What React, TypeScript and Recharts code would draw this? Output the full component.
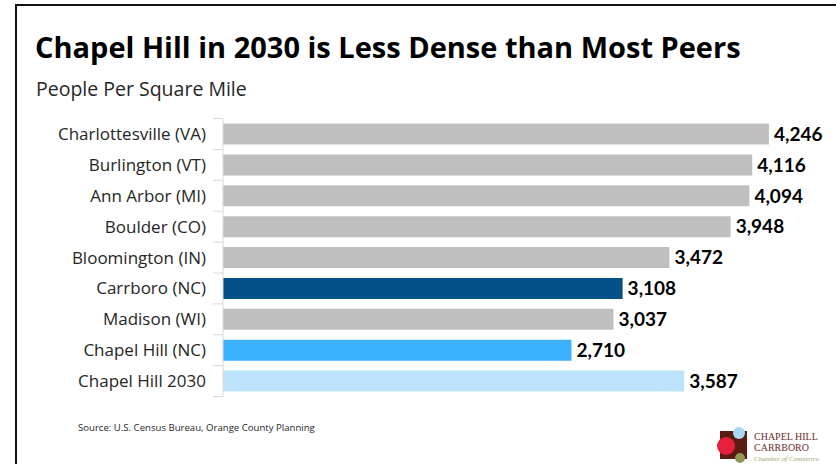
import { BarChart, Bar, XAxis, YAxis, Cell, LabelList } from 'recharts'

const cities = [
  'Charlottesville (VA)',
  'Burlington (VT)',
  'Ann Arbor (MI)',
  'Boulder (CO)',
  'Bloomington (IN)',
  'Carrboro (NC)',
  'Madison (WI)',
  'Chapel Hill (NC)',
  'Chapel Hill 2030'
]
const density = [4246, 4116, 4094, 3948, 3472, 3108, 3037, 2710, 3587]
const barColors = [
  '#bfbfbf',
  '#bfbfbf',
  '#bfbfbf',
  '#bfbfbf',
  '#bfbfbf',
  '#04518a',
  '#bfbfbf',
  '#3bb0fc',
  '#bde3fb'
]

const data = cities.map((city, i) => ({ city, density: density[i] }))

const W = 836
const H = 464
const TOP = 118.6
const BOTTOM = 67.5
const AXIS_X = 223
const BAND = (H - TOP - BOTTOM) / cities.length

const labelFont = '"Open Sans", "Noto Sans", sans-serif'

function CityTick(props: any) {
  const { y, payload, index } = props
  return (
    <g>
      <line x1={AXIS_X - 10} x2={AXIS_X} y1={y - BAND / 2} y2={y - BAND / 2} stroke="#d9d9d9" />
      {index === cities.length - 1 && (
        <line x1={AXIS_X - 10} x2={AXIS_X} y1={y + BAND / 2} y2={y + BAND / 2} stroke="#d9d9d9" />
      )}
      <text
        x={AXIS_X - 17}
        y={y}
        dy="0.35em"
        textAnchor="end"
        fontFamily={labelFont}
        fontSize={17}
        fill="#262626"
      >
        {payload.value}
      </text>
    </g>
  )
}

function Logo() {
  return (
    <g>
      <rect x={720} y={431} width={27} height={28} fill="#5b1a12" />
      <circle cx={739} cy={433} r={6} fill="#a9d9f2" />
      <circle cx={726} cy={446} r={9} fill="#e5203c" />
      <circle cx={740} cy={458} r={5} fill="#8c9a52" />
      <text x={754} y={440} fontFamily='"Liberation Serif", serif' fontSize={10} fill="#6e2b2b">
        CHAPEL HILL
      </text>
      <text x={754} y={451} fontFamily='"Liberation Serif", serif' fontSize={10} fill="#6e2b2b">
        CARRBORO
      </text>
      <text
        x={754}
        y={461}
        fontFamily='"Liberation Serif", serif'
        fontStyle="italic"
        fontSize={7}
        fill="#a3a46e"
      >
        Chamber of Commerce
      </text>
    </g>
  )
}

export default function App() {
  return (
    <div style={{ position: 'relative', width: W, height: H, overflow: 'hidden', background: '#fff' }}>
      <style>{'body{margin:0}'}</style>
      <svg width={W} height={H} style={{ position: 'absolute', left: 0, top: 0 }}>
        <path d={`M16 ${H} V5 H${W}`} fill="none" stroke="#111" strokeWidth={2} />
        <text x={35} y={58} fontFamily={labelFont} fontWeight={700} fontSize={29} fill="#000">
          Chapel Hill in 2030 is Less Dense than Most Peers
        </text>
        <text x={36} y={96} fontFamily={labelFont} fontSize={19.5} fill="#262626">
          People Per Square Mile
        </text>
        <text x={78} y={431} fontFamily={labelFont} fontSize={9.6} fill="#262626">
          Source: U.S. Census Bureau, Orange County Planning
        </text>
        <Logo />
      </svg>
      <div style={{ position: 'absolute', left: 0, top: 0 }}>
        <BarChart
          width={W}
          height={H}
          data={data}
          layout="vertical"
          margin={{ top: TOP, right: 34.4, bottom: BOTTOM, left: 0 }}
        >
          <XAxis type="number" domain={[0, 4500]} hide />
          <YAxis
            type="category"
            dataKey="city"
            width={AXIS_X}
            axisLine={{ stroke: '#d9d9d9' }}
            tickLine={false}
            tick={<CityTick />}
            interval={0}
          />
          <Bar dataKey="density" barSize={21} isAnimationActive={false}>
            {data.map((d, i) => (
              <Cell key={d.city} fill={barColors[i]} />
            ))}
            <LabelList
              dataKey="density"
              position="right"
              offset={5}
              formatter={(v: any) => Number(v).toLocaleString('en-US')}
              style={{ fontFamily: 'Lato, sans-serif', fontWeight: 700, fontSize: 19, fill: '#000' }}
            />
          </Bar>
        </BarChart>
      </div>
    </div>
  )
}
